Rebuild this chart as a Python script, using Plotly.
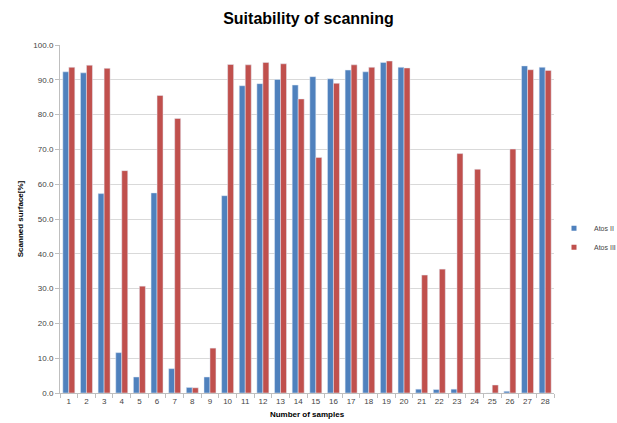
import plotly.graph_objects as go

samples = [str(i) for i in range(1, 29)]
series_names = ["Atos II", "Atos III"]
series_colors = ["#4F81BD", "#C0504D"]
atos_ii = [92.3, 92.0, 57.3, 11.6, 4.6, 57.5, 7.0, 1.6, 4.6, 56.7, 88.3, 88.9, 90.1, 88.5,
           90.9, 90.3, 92.8, 92.3, 95.0, 93.6, 1.1, 1.0, 1.1, 0.0, 0.0, 0.5, 94.0, 93.6]
atos_iii = [93.6, 94.2, 93.3, 63.9, 30.7, 85.5, 78.9, 1.5, 12.9, 94.4, 94.3, 95.0, 94.6, 84.5,
            67.7, 89.0, 94.3, 93.6, 95.4, 93.4, 33.9, 35.6, 68.8, 64.3, 2.3, 70.1, 92.9, 92.7]

fig = go.Figure()
for name, color, vals in zip(series_names, series_colors, [atos_ii, atos_iii]):
    fig.add_trace(go.Bar(x=samples, y=vals, name=name, marker_color=color,
                         showlegend=False, legendgroup=name))
    # small square legend marker, like the original
    fig.add_trace(go.Scatter(x=[None], y=[None], mode="markers", name=name,
                             legendgroup=name,
                             marker=dict(symbol="square", size=5, color=color)))

fig.update_layout(
    width=617, height=423,
    margin=dict(l=60, r=63, t=45, b=30, autoexpand=False),
    paper_bgcolor="white", plot_bgcolor="white",
    barmode="group", bargap=0.32, bargroupgap=0,
    title=dict(text="<b>Suitability of scanning</b>", x=0.5, xanchor="center",
               y=0.957, yanchor="middle",
               font=dict(family="Liberation Sans, Arial, sans-serif", size=16, color="#000")),
    font=dict(family="Liberation Sans, Arial, sans-serif", size=8, color="#444"),
    legend=dict(x=1.0, y=0.515, xanchor="left", yanchor="top",
                font=dict(size=7, color="#444"), itemwidth=30, tracegroupgap=0,
                bgcolor="rgba(0,0,0,0)"),
    xaxis=dict(title=dict(text="<b>Number of samples</b>", font=dict(size=8, color="#000"), standoff=6),
               showline=True, linecolor="#BFBFBF", ticks="outside", ticklen=4, tickcolor="#BFBFBF",
               tickson="boundaries", tickangle=0, tickfont=dict(size=8, color="#444")),
    yaxis=dict(title=dict(text="<b>Scanned surface[%]</b>", font=dict(size=8, color="#000"), standoff=8),
               range=[0, 100], dtick=10, tickformat=".1f",
               showgrid=True, gridcolor="#D9D9D9", gridwidth=1,
               showline=True, linecolor="#BFBFBF", ticks="outside", ticklen=4, tickcolor="#BFBFBF",
               tickfont=dict(size=8, color="#444"), zeroline=False),
)

fig.write_html("out.html")
